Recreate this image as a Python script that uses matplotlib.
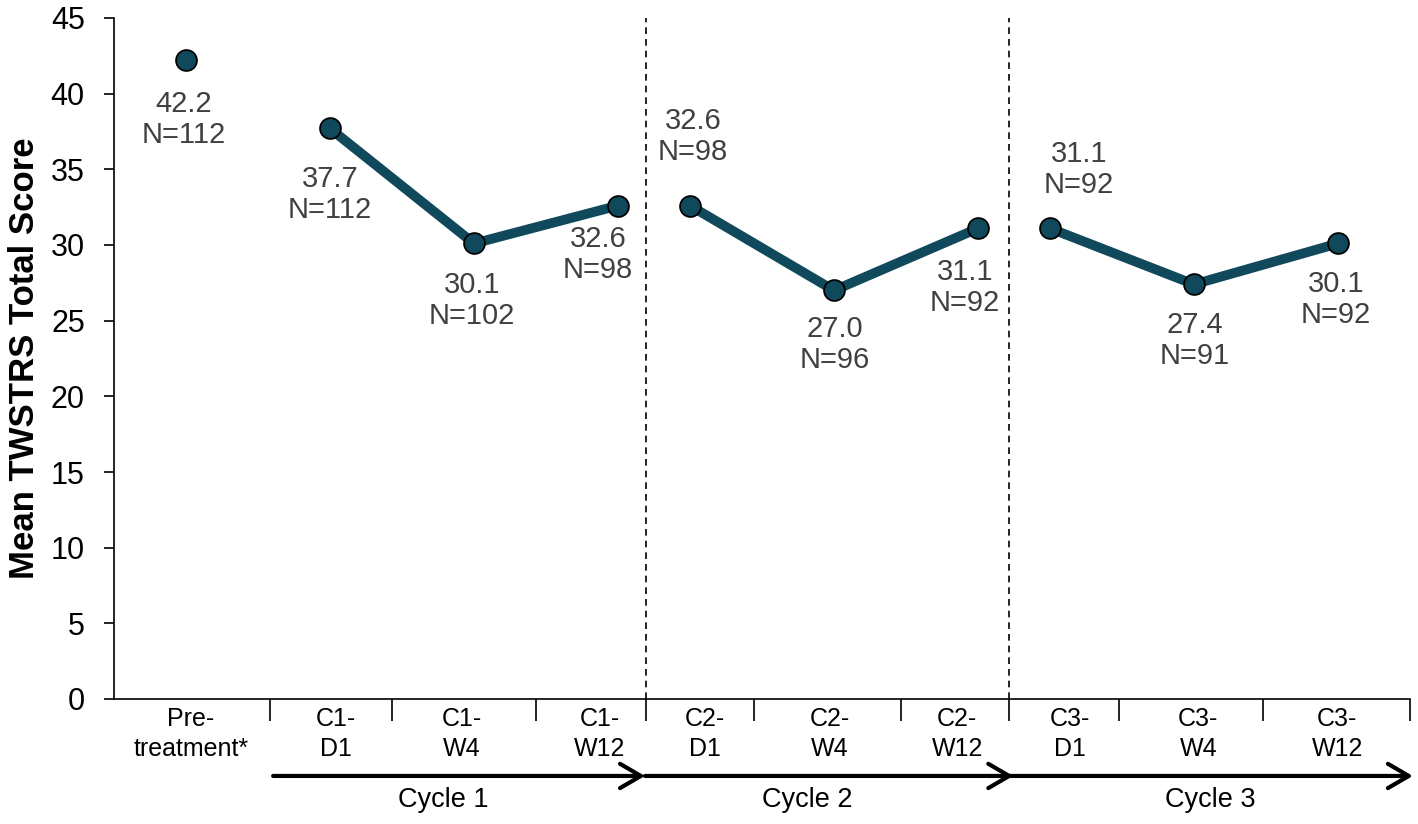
import matplotlib.pyplot as plt
import matplotlib.transforms as mtransforms

plt.rcParams['font.family'] = ['Liberation Sans', 'DejaVu Sans']

# data
labels = ["Pre-\ntreatment*", "C1-\nD1", "C1-\nW4", "C1-\nW12",
          "C2-\nD1", "C2-\nW4", "C2-\nW12",
          "C3-\nD1", "C3-\nW4", "C3-\nW12"]
means = [42.2, 37.7, 30.1, 32.6, 32.6, 27.0, 31.1, 31.1, 27.4, 30.1]
counts = [112, 112, 102, 98, 98, 96, 92, 92, 91, 92]
cycles = ["Cycle 1", "Cycle 2", "Cycle 3"]

# layout (x axis runs 0..18)
x_pos = [1, 3, 5, 7, 8, 10, 12, 13, 15, 17]
label_x = [1.07, 3.08, 4.83, 6.75, 8.21, 9.94, 11.71, 13.28, 15.06, 16.99]
seps = [2.17, 3.86, 5.86, 7.39, 8.89, 10.93, 12.43, 13.96, 15.96, 18]
cycle_arrows = [(2.21, 7.375), (7.375, 12.49), (12.43, 18.04)]
cycle_x = [4.57, 9.63, 15.22]
# label offsets in pixels (dx, dy) from each point
offs = [(-2, -59), (0, -66), (-2, -57), (-20, -49), (3, 69),
        (1, -54), (-13, -59), (29, 59), (1, -56), (-2, -56)]

col = '#10485c'

fig = plt.figure(figsize=(14.18, 8.24), dpi=100)
ax = fig.add_axes([114/1418, 1-699/824, 1296/1418, 681/824])

# pre-treatment dot alone, then one line per cycle
ax.plot(x_pos[:1], means[:1], 'o', color=col, ms=15, mec='black', mew=1.3, zorder=3)
for a, b in [(1, 4), (4, 7), (7, 10)]:
    ax.plot(x_pos[a:b], means[a:b], '-o', color=col, lw=7, ms=15,
            mec='black', mew=1.3, zorder=3)

for x, m, n, (dx, dy) in zip(x_pos, means, counts, offs):
    ax.annotate(f"{m:.1f}\nN={n}", (x, m), xytext=(dx, dy), textcoords='offset pixels',
                ha='center', va='center', fontsize=21, color='#404040', linespacing=1.15)

for s in [seps[3], seps[6]]:
    ax.axvline(s, color='black', ls=(0, (4, 3)), lw=1.2, zorder=1)

ax.set_xlim(0, 18)
ax.set_ylim(0, 45)
ax.set_yticks(range(0, 46, 5))
ax.tick_params(axis='y', labelsize=22, length=7, width=1.2, pad=14)
ax.set_xticks(seps)
ax.set_xticklabels([])
ax.tick_params(axis='x', length=16, width=1.2)
ax.spines[['top', 'right']].set_visible(False)
for sp in ['left', 'bottom']:
    ax.spines[sp].set_linewidth(1.2)
ax.set_ylabel("Mean TWSTRS Total Score", fontsize=25, fontweight='bold', labelpad=7)

trans = mtransforms.blended_transform_factory(ax.transData, ax.transAxes)
for lx, lab in zip(label_x, labels):
    ax.text(lx, -0.0514, lab, transform=trans, ha='center', va='center',
            fontsize=18, linespacing=1.35)

for (x0, x1), cx, cname in zip(cycle_arrows, cycle_x, cycles):
    ax.annotate('', xy=(x1, -0.113), xytext=(x0, -0.113), xycoords=trans, textcoords=trans,
                arrowprops=dict(arrowstyle='->,head_length=0.6,head_width=0.35', lw=3,
                                color='black', mutation_scale=25, shrinkA=0, shrinkB=0),
                annotation_clip=False)
    ax.text(cx, -0.148, cname, transform=trans, ha='center', va='center', fontsize=19.5)

fig.savefig('out.png', dpi=100)
